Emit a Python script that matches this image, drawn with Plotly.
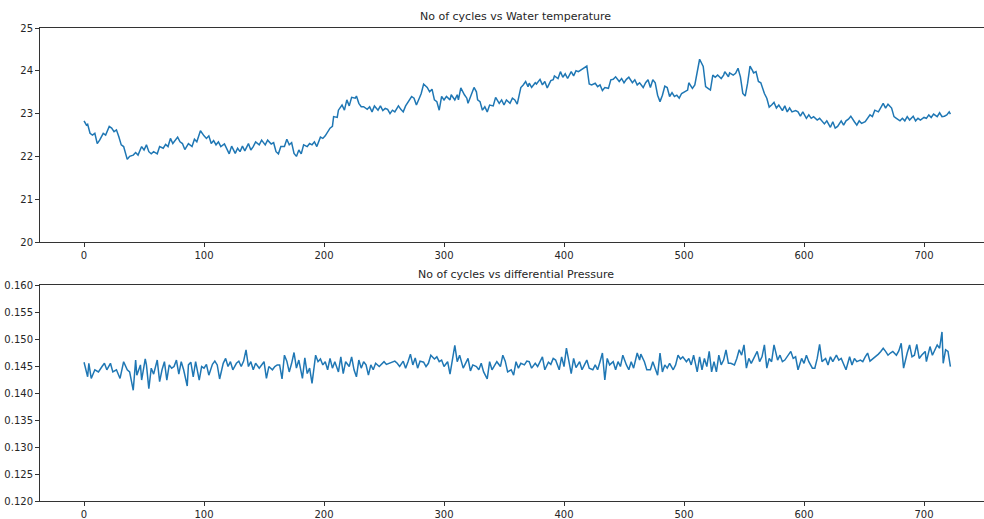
import plotly.graph_objects as go

# ---- Data ----
temp_cycles = [0, 2, 3, 5, 7, 9, 11, 13, 16, 18, 21, 23, 25, 27, 29, 31, 33, 36, 38, 41, 43, 45, 48, 50, 52, 54, 56, 58, 61, 63, 66, 68, 70, 72, 74, 78, 80, 82, 84, 87, 90, 92, 94, 97, 100, 102, 104, 106, 108, 110, 112, 114, 117, 119, 121, 123, 126, 128, 130, 132, 134, 137, 139, 141, 143, 146, 148, 151, 153, 156, 158, 160, 162, 164, 167, 169, 171, 173, 175, 177, 179, 181, 183, 186, 188, 190, 192, 194, 197, 199, 201, 205, 207, 208, 211, 212, 215, 217, 219, 221, 223, 226, 227, 229, 231, 233, 236, 238, 240, 242, 245, 247, 249, 251, 253, 255, 257, 259, 262, 264, 266, 268, 271, 273, 275, 277, 280, 281, 283, 286, 288, 290, 292, 294, 296, 298, 300, 302, 305, 306, 309, 311, 312, 314, 317, 319, 320, 325, 327, 328, 330, 332, 334, 336, 338, 341, 343, 346, 348, 350, 352, 355, 357, 359, 361, 364, 366, 368, 370, 371, 373, 376, 377, 380, 382, 384, 386, 389, 391, 392, 395, 397, 399, 401, 403, 406, 408, 410, 412, 414, 417, 419, 421, 423, 426, 428, 430, 432, 434, 437, 439, 441, 443, 446, 448, 450, 452, 454, 457, 459, 461, 463, 466, 468, 470, 472, 474, 476, 478, 480, 482, 484, 486, 488, 490, 492, 494, 496, 498, 501, 503, 504, 507, 509, 511, 513, 516, 518, 520, 522, 524, 526, 528, 531, 533, 534, 537, 538, 541, 543, 545, 547, 549, 551, 553, 555, 557, 558, 560, 562, 564, 567, 569, 571, 573, 575, 577, 579, 582, 584, 586, 588, 590, 593, 595, 597, 599, 602, 604, 606, 608, 611, 613, 615, 617, 619, 622, 624, 626, 628, 631, 633, 635, 637, 639, 642, 644, 646, 648, 651, 653, 655, 657, 659, 662, 664, 666, 668, 670, 673, 675, 677, 680, 682, 684, 686, 688, 691, 693, 695, 697, 700, 702, 704, 706, 708, 711, 713, 715, 717, 719, 721, 722]
water_temp = [22.83, 22.73, 22.75, 22.54, 22.50, 22.54, 22.30, 22.38, 22.54, 22.50, 22.70, 22.66, 22.58, 22.62, 22.46, 22.27, 22.23, 21.93, 22.00, 22.03, 22.09, 22.03, 22.23, 22.15, 22.27, 22.11, 22.06, 22.11, 22.06, 22.23, 22.19, 22.28, 22.23, 22.42, 22.30, 22.45, 22.34, 22.30, 22.16, 22.30, 22.23, 22.40, 22.34, 22.60, 22.48, 22.42, 22.48, 22.30, 22.37, 22.27, 22.34, 22.23, 22.29, 22.16, 22.06, 22.24, 22.07, 22.19, 22.11, 22.24, 22.13, 22.30, 22.15, 22.23, 22.34, 22.27, 22.38, 22.27, 22.38, 22.29, 22.32, 22.11, 22.06, 22.23, 22.23, 22.40, 22.27, 22.32, 22.07, 22.00, 22.15, 22.06, 22.27, 22.23, 22.30, 22.27, 22.34, 22.23, 22.45, 22.42, 22.48, 22.66, 22.70, 22.93, 22.91, 23.08, 23.20, 23.08, 23.32, 23.18, 23.38, 23.36, 23.41, 23.24, 23.16, 23.16, 23.10, 23.16, 23.04, 23.18, 23.08, 23.18, 23.07, 23.12, 23.10, 23.00, 23.08, 23.04, 23.18, 23.10, 23.04, 23.18, 23.32, 23.40, 23.36, 23.20, 23.40, 23.47, 23.69, 23.61, 23.51, 23.57, 23.32, 23.28, 23.08, 23.40, 23.32, 23.40, 23.32, 23.44, 23.32, 23.44, 23.32, 23.60, 23.44, 23.36, 23.24, 23.61, 23.51, 23.32, 23.28, 23.08, 23.16, 23.04, 23.20, 23.18, 23.38, 23.24, 23.32, 23.20, 23.32, 23.24, 23.36, 23.32, 23.22, 23.61, 23.67, 23.75, 23.63, 23.71, 23.61, 23.72, 23.69, 23.80, 23.67, 23.75, 23.60, 23.77, 23.79, 23.88, 23.82, 23.98, 23.85, 23.93, 23.82, 23.98, 23.88, 24.00, 23.98, 24.02, 24.06, 24.11, 23.69, 23.67, 23.71, 23.63, 23.67, 23.54, 23.61, 23.59, 23.79, 23.80, 23.86, 23.75, 23.82, 23.72, 23.80, 23.85, 23.72, 23.79, 23.67, 23.72, 23.61, 23.72, 23.79, 23.61, 23.79, 23.72, 23.43, 23.28, 23.43, 23.64, 23.61, 23.40, 23.49, 23.40, 23.43, 23.36, 23.47, 23.51, 23.55, 23.72, 23.59, 23.67, 23.94, 24.27, 24.10, 23.63, 23.59, 23.55, 23.90, 23.85, 23.90, 23.82, 23.90, 23.98, 23.86, 23.95, 23.90, 23.94, 24.06, 23.86, 23.47, 23.41, 23.71, 24.11, 24.01, 23.95, 23.98, 23.75, 23.72, 23.47, 23.36, 23.15, 23.20, 23.26, 23.13, 23.20, 23.07, 23.18, 23.04, 23.13, 23.04, 23.07, 23.04, 22.94, 23.04, 22.89, 22.97, 22.89, 22.93, 22.85, 22.89, 22.81, 22.76, 22.83, 22.68, 22.81, 22.66, 22.70, 22.83, 22.73, 22.83, 22.87, 22.94, 22.81, 22.73, 22.83, 22.77, 22.81, 22.89, 22.97, 22.93, 23.08, 23.04, 23.13, 23.24, 23.13, 23.22, 23.13, 22.93, 22.89, 22.83, 22.89, 22.83, 22.93, 22.85, 22.94, 22.83, 22.89, 22.85, 22.91, 22.89, 22.97, 22.91, 22.99, 22.93, 23.02, 22.93, 22.94, 22.97, 23.04, 22.99]

pres_cycles = [0, 3, 4, 6, 9, 12, 15, 17, 19, 22, 24, 27, 30, 33, 36, 38, 41, 43, 44, 47, 48, 51, 52, 54, 56, 58, 61, 63, 65, 67, 69, 71, 73, 75, 77, 79, 81, 83, 86, 87, 89, 91, 93, 96, 98, 100, 102, 104, 107, 109, 111, 113, 116, 118, 120, 122, 124, 127, 129, 131, 133, 135, 137, 139, 141, 143, 146, 148, 150, 152, 154, 157, 159, 161, 163, 165, 167, 169, 171, 173, 175, 177, 179, 182, 184, 186, 188, 190, 193, 195, 197, 199, 201, 203, 205, 207, 209, 212, 214, 216, 218, 221, 223, 225, 227, 229, 231, 233, 235, 237, 239, 241, 243, 246, 248, 250, 252, 254, 257, 259, 261, 263, 266, 268, 270, 272, 274, 276, 278, 280, 283, 285, 287, 289, 292, 294, 296, 298, 300, 303, 305, 307, 309, 311, 313, 316, 318, 320, 322, 324, 327, 329, 331, 333, 336, 338, 340, 342, 344, 347, 349, 351, 353, 356, 358, 360, 362, 364, 367, 369, 371, 373, 376, 378, 380, 382, 384, 387, 389, 391, 393, 396, 398, 400, 402, 404, 406, 408, 410, 413, 415, 417, 419, 421, 424, 426, 428, 430, 432, 434, 436, 438, 441, 443, 445, 447, 449, 452, 454, 456, 458, 461, 463, 464, 467, 469, 472, 474, 476, 478, 480, 482, 484, 486, 488, 491, 493, 495, 497, 499, 502, 504, 506, 508, 511, 513, 515, 517, 519, 521, 523, 525, 527, 529, 531, 533, 535, 537, 539, 542, 544, 546, 548, 550, 552, 554, 556, 558, 561, 563, 565, 567, 569, 571, 573, 575, 578, 580, 582, 584, 587, 589, 591, 593, 595, 598, 600, 602, 604, 607, 609, 611, 613, 615, 618, 620, 622, 624, 627, 629, 631, 633, 635, 638, 640, 642, 644, 647, 649, 651, 653, 655, 658, 660, 662, 664, 666, 668, 670, 672, 674, 677, 679, 681, 683, 686, 688, 690, 692, 694, 696, 698, 701, 702, 705, 707, 709, 711, 713, 715, 716, 718, 720, 722]
diff_pressure = [0.1457, 0.1430, 0.1455, 0.1427, 0.1443, 0.1439, 0.1449, 0.1455, 0.1443, 0.1455, 0.1439, 0.1443, 0.1427, 0.1458, 0.1443, 0.1439, 0.1405, 0.1461, 0.1433, 0.1452, 0.1424, 0.1463, 0.1452, 0.1408, 0.1446, 0.1435, 0.1461, 0.1421, 0.1443, 0.1458, 0.1424, 0.1452, 0.1446, 0.1449, 0.1461, 0.1435, 0.1458, 0.1443, 0.1413, 0.1452, 0.1457, 0.1430, 0.1458, 0.1424, 0.1449, 0.1446, 0.1453, 0.1433, 0.1453, 0.1459, 0.1452, 0.1426, 0.1455, 0.1464, 0.1449, 0.1458, 0.1443, 0.1455, 0.1459, 0.1449, 0.1459, 0.1480, 0.1449, 0.1458, 0.1443, 0.1455, 0.1446, 0.1452, 0.1458, 0.1427, 0.1449, 0.1443, 0.1449, 0.1452, 0.1452, 0.1426, 0.1470, 0.1459, 0.1439, 0.1455, 0.1475, 0.1446, 0.1461, 0.1427, 0.1465, 0.1436, 0.1446, 0.1418, 0.1470, 0.1458, 0.1463, 0.1452, 0.1458, 0.1443, 0.1464, 0.1446, 0.1458, 0.1439, 0.1467, 0.1436, 0.1458, 0.1449, 0.1467, 0.1443, 0.1430, 0.1461, 0.1446, 0.1458, 0.1452, 0.1433, 0.1452, 0.1443, 0.1455, 0.1449, 0.1453, 0.1458, 0.1453, 0.1455, 0.1458, 0.1459, 0.1455, 0.1449, 0.1459, 0.1446, 0.1458, 0.1472, 0.1452, 0.1465, 0.1446, 0.1459, 0.1457, 0.1449, 0.1455, 0.1470, 0.1463, 0.1467, 0.1458, 0.1461, 0.1449, 0.1458, 0.1435, 0.1464, 0.1488, 0.1458, 0.1470, 0.1446, 0.1455, 0.1464, 0.1441, 0.1452, 0.1449, 0.1443, 0.1455, 0.1439, 0.1426, 0.1458, 0.1443, 0.1452, 0.1458, 0.1449, 0.1470, 0.1459, 0.1439, 0.1443, 0.1433, 0.1458, 0.1446, 0.1455, 0.1452, 0.1459, 0.1458, 0.1446, 0.1455, 0.1449, 0.1459, 0.1467, 0.1443, 0.1457, 0.1453, 0.1464, 0.1461, 0.1443, 0.1467, 0.1449, 0.1483, 0.1458, 0.1436, 0.1464, 0.1447, 0.1458, 0.1443, 0.1452, 0.1461, 0.1446, 0.1443, 0.1452, 0.1443, 0.1458, 0.1474, 0.1424, 0.1464, 0.1452, 0.1458, 0.1443, 0.1458, 0.1449, 0.1470, 0.1452, 0.1443, 0.1458, 0.1446, 0.1474, 0.1461, 0.1472, 0.1458, 0.1443, 0.1443, 0.1458, 0.1446, 0.1433, 0.1474, 0.1439, 0.1452, 0.1446, 0.1455, 0.1443, 0.1452, 0.1470, 0.1463, 0.1467, 0.1458, 0.1464, 0.1452, 0.1470, 0.1439, 0.1467, 0.1443, 0.1464, 0.1449, 0.1477, 0.1439, 0.1458, 0.1439, 0.1470, 0.1452, 0.1461, 0.1480, 0.1455, 0.1455, 0.1452, 0.1464, 0.1480, 0.1470, 0.1489, 0.1446, 0.1464, 0.1455, 0.1464, 0.1477, 0.1458, 0.1467, 0.1489, 0.1446, 0.1464, 0.1458, 0.1489, 0.1461, 0.1470, 0.1458, 0.1461, 0.1470, 0.1477, 0.1464, 0.1467, 0.1443, 0.1464, 0.1455, 0.1470, 0.1458, 0.1446, 0.1446, 0.1464, 0.1490, 0.1458, 0.1464, 0.1452, 0.1467, 0.1458, 0.1470, 0.1461, 0.1464, 0.1452, 0.1443, 0.1467, 0.1452, 0.1464, 0.1458, 0.1461, 0.1458, 0.1467, 0.1474, 0.1459, 0.1464, 0.1467, 0.1472, 0.1477, 0.1483, 0.1477, 0.1470, 0.1474, 0.1477, 0.1470, 0.1478, 0.1492, 0.1446, 0.1474, 0.1489, 0.1467, 0.1470, 0.1490, 0.1464, 0.1470, 0.1477, 0.1458, 0.1486, 0.1470, 0.1480, 0.1489, 0.1483, 0.1513, 0.1455, 0.1480, 0.1477, 0.1449]

top_title = "No of cycles vs Water temperature"
bottom_title = "No of cycles vs differential Pressure"
x_ticks = [0, 100, 200, 300, 400, 500, 600, 700]
temp_ticks = [20, 21, 22, 23, 24, 25]
pres_ticks = [0.120, 0.125, 0.130, 0.135, 0.140, 0.145, 0.150, 0.155, 0.160]

# ---- Figure ----
W, H = 984, 519
M_T, M_B, M_L = 28, 18, 40
PH = H - M_T - M_B           # plot-area height in px
LINE = "#1f77b4"
AX = "#333333"
FONT = dict(family="DejaVu Sans", size=10, color="#262626")

fig = go.Figure()
fig.add_trace(go.Scatter(x=temp_cycles, y=water_temp, mode="lines",
                         line=dict(color=LINE, width=1.5), xaxis="x", yaxis="y",
                         showlegend=False))
fig.add_trace(go.Scatter(x=pres_cycles, y=diff_pressure, mode="lines",
                         line=dict(color=LINE, width=1.5), xaxis="x2", yaxis="y2",
                         showlegend=False))

def xax(anchor):
    return dict(domain=[0, 1], anchor=anchor, range=[-36.7, 750], tickvals=x_ticks,
                showgrid=False, zeroline=False, showline=True, linecolor=AX,
                linewidth=1, mirror=True, ticks="outside", ticklen=4,
                tickcolor=AX, tickfont=FONT, automargin=False)

def yax(anchor, dom, rng, tv, fmt):
    return dict(domain=dom, anchor=anchor, range=rng, tickvals=tv,
                tickformat=fmt, showgrid=False, zeroline=False, showline=True,
                linecolor=AX, linewidth=1, mirror=False, ticks="outside",
                ticklen=4, tickcolor=AX, tickfont=FONT, automargin=False)

def ypos(px):
    # pixel row (from top of page) -> fraction of the plot area
    return 1 - (px - M_T) / PH

top_dom = [ypos(242), 1.0]
bot_dom = [0.0, ypos(285)]

fig.update_layout(
    width=W, height=H,
    margin=dict(l=M_L, r=0, t=M_T, b=M_B, autoexpand=False),
    paper_bgcolor="white", plot_bgcolor="white",
    font=FONT,
    xaxis=xax("y"),
    yaxis=yax("x", top_dom, [20, 25], temp_ticks, "d"),
    xaxis2=xax("y2"),
    yaxis2=yax("x2", bot_dom, [0.120, 0.160], pres_ticks, ".3f"),
    annotations=[
        dict(text=top_title, x=0.5 + 3.5 / 944, y=ypos(17), xref="paper", yref="paper",
             showarrow=False, xanchor="center", yanchor="middle",
             font=dict(family="DejaVu Sans", size=11, color="#262626")),
        dict(text=bottom_title, x=0.5 + 3.5 / 944, y=ypos(274), xref="paper", yref="paper",
             showarrow=False, xanchor="center", yanchor="middle",
             font=dict(family="DejaVu Sans", size=11, color="#262626")),
    ],
)

fig.write_html("out.html")
